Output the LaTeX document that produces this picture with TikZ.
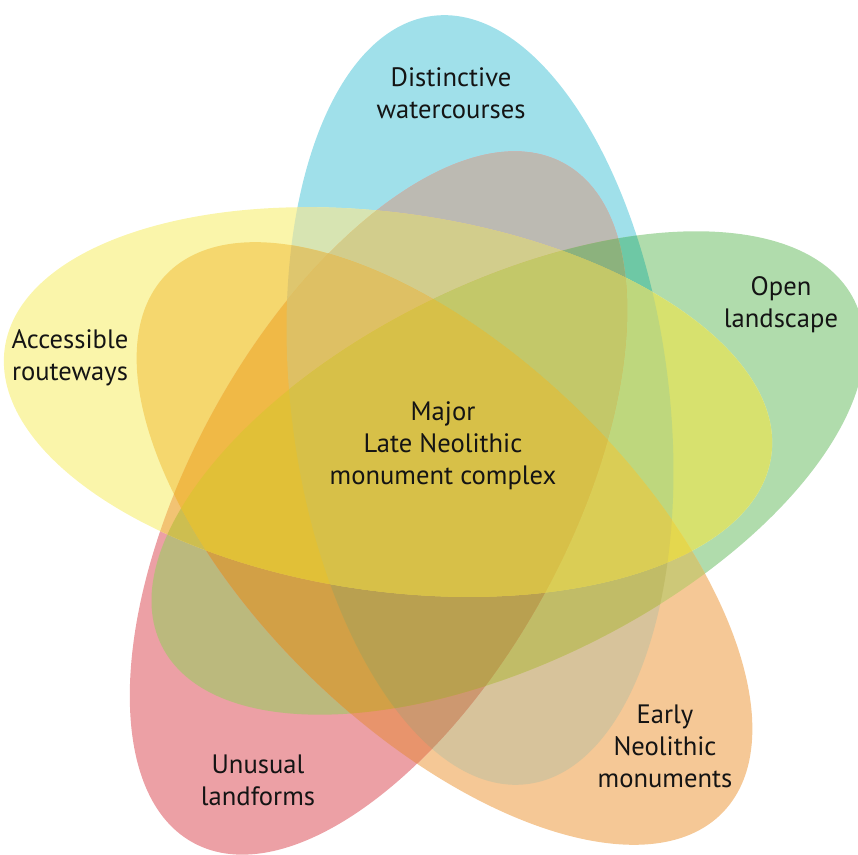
\documentclass[tikz,border=0pt]{standalone}
\usepackage{fontspec}
\setmainfont{PT Sans}
% colours of every region of the diagram (exact membership)
\definecolor{kB}{RGB}{160,224,234}
\definecolor{kG}{RGB}{176,220,172}
\definecolor{kO}{RGB}{245,200,150}
\definecolor{kR}{RGB}{236,160,165}
\definecolor{kY}{RGB}{250,245,170}
\definecolor{kBG}{RGB}{110,200,165}
\definecolor{kBO}{RGB}{215,195,155}
\definecolor{kBR}{RGB}{188,186,178}
\definecolor{kBY}{RGB}{215,228,178}
\definecolor{kGO}{RGB}{205,200,120}
\definecolor{kGR}{RGB}{187,185,125}
\definecolor{kGY}{RGB}{215,225,110}
\definecolor{kOR}{RGB}{232,148,108}
\definecolor{kOY}{RGB}{245,215,110}
\definecolor{kRY}{RGB}{242,195,115}
\definecolor{kBGO}{RGB}{193,188,103}
\definecolor{kBGR}{RGB}{140,178,125}
\definecolor{kBGY}{RGB}{190,215,125}
\definecolor{kBOR}{RGB}{205,152,112}
\definecolor{kBOY}{RGB}{222,198,110}
\definecolor{kBRY}{RGB}{210,205,140}
\definecolor{kGOR}{RGB}{210,160,70}
\definecolor{kGOY}{RGB}{228,215,78}
\definecolor{kGRY}{RGB}{205,190,80}
\definecolor{kORY}{RGB}{240,185,70}
\definecolor{kBGOR}{RGB}{185,160,80}
\definecolor{kBGOY}{RGB}{218,205,85}
\definecolor{kBGRY}{RGB}{195,200,105}
\definecolor{kBORY}{RGB}{222,192,100}
\definecolor{kGORY}{RGB}{225,192,55}
\definecolor{kBGORY}{RGB}{215,192,72}
\tikzset{
  eB/.style={rotate around={97:(480,455)}},
  eG/.style={rotate around={26.5:(508,382)}},
  eO/.style={rotate around={-44:(444.5,311.5)}},
  eR/.style={rotate around={61.4:(378.5,352)}},
  eY/.style={rotate around={-8:(388,453)}},
  rad/.style={x radius=193.5pt, y radius=94.5pt}}
\newcommand\cB{\clip[eB] (480,455) ellipse [rad];}
\newcommand\cG{\clip[eG] (508,382) ellipse [rad];}
\newcommand\cO{\clip[eO] (444.5,311.5) ellipse [rad];}
\newcommand\cR{\clip[eR] (378.5,352) ellipse [rad];}
\newcommand\fB[1]{\fill[#1, eB] (480,455) ellipse [rad];}
\newcommand\fG[1]{\fill[#1, eG] (508,382) ellipse [rad];}
\newcommand\fO[1]{\fill[#1, eO] (444.5,311.5) ellipse [rad];}
\newcommand\fR[1]{\fill[#1, eR] (378.5,352) ellipse [rad];}
\newcommand\fY[1]{\fill[#1, eY] (388,453) ellipse [rad];}
\newcommand\rgn[1]{\begin{scope}#1\end{scope}}
\begin{document}
\begin{tikzpicture}[x=0.5pt,y=0.5pt,
  lbl/.style={align=center, inner sep=0pt, text=black!92,
    font=\fontsize{13.3}{16}\selectfont}]
\useasboundingbox (0,0) rectangle (858,855);
% single sets
\fB{kB} \fG{kG} \fO{kO} \fR{kR} \fY{kY}
% two sets
\rgn{\cB\fG{kBG}} \rgn{\cB\fO{kBO}} \rgn{\cB\fR{kBR}} \rgn{\cB\fY{kBY}}
\rgn{\cG\fO{kGO}} \rgn{\cG\fR{kGR}} \rgn{\cG\fY{kGY}}
\rgn{\cO\fR{kOR}} \rgn{\cO\fY{kOY}} \rgn{\cR\fY{kRY}}
% three sets
\rgn{\cB\cG\fO{kBGO}} \rgn{\cB\cG\fR{kBGR}} \rgn{\cB\cG\fY{kBGY}}
\rgn{\cB\cO\fR{kBOR}} \rgn{\cB\cO\fY{kBOY}} \rgn{\cB\cR\fY{kBRY}}
\rgn{\cG\cO\fR{kGOR}} \rgn{\cG\cO\fY{kGOY}} \rgn{\cG\cR\fY{kGRY}}
\rgn{\cO\cR\fY{kORY}}
% four sets
\rgn{\cB\cG\cO\fR{kBGOR}} \rgn{\cB\cG\cO\fY{kBGOY}}
\rgn{\cB\cG\cR\fY{kBGRY}} \rgn{\cB\cO\cR\fY{kBORY}}
\rgn{\cG\cO\cR\fY{kGORY}}
% all five
\rgn{\cB\cG\cO\cR\fY{kBGORY}}
% labels
\node[lbl] (water) at (451,761.5) {Distinctive\\watercourses};
\node[lbl] (open) at (781,550.5) {Open\\landscape};
\node[lbl] (route) at (70,497.5) {Accessible\\routeways};
\node[lbl] (major) at (443,409) {Major\\Late Neolithic\\monument complex};
\node[lbl] (early) at (665,109) {Early\\Neolithic\\monuments};
\node[lbl] (land) at (258,75) {Unusual\\landforms};
\end{tikzpicture}
\end{document}
